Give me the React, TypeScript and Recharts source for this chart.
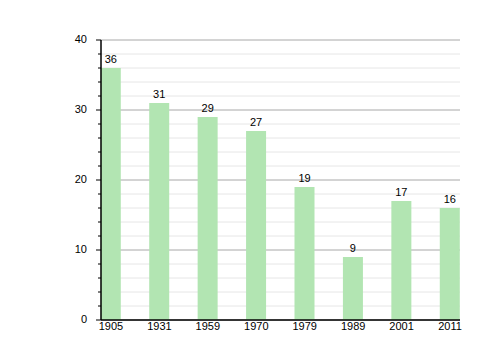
import React from 'react';
import { BarChart, Bar, XAxis, YAxis, CartesianGrid, LabelList } from 'recharts';

// census years and population counts
const YEARS = [1905, 1931, 1959, 1970, 1979, 1989, 2001, 2011];
const POPULATION = [36, 31, 29, 27, 19, 9, 17, 16];
const Y_TICKS = [0, 2, 4, 6, 8, 10, 12, 14, 16, 18, 20, 22, 24, 26, 28, 30, 32, 34, 36, 38, 40];

const data = YEARS.map((year, i) => ({ idx: i, year, value: POPULATION[i] }));

const FONT = '"Liberation Sans", Arial, sans-serif';

const YTick = (props: any) => {
  const { x, y, payload } = props;
  const major = payload.value % 10 === 0;
  return (
    <g>
      <line x1={x - (major ? 5 : 3)} x2={x} y1={y} y2={y} stroke="#000" strokeWidth={1} />
      {major && (
        <text x={x - 14} y={y} dy={3} textAnchor="end" fontSize={11} fill="#000" fontFamily={FONT}>
          {payload.value}
        </text>
      )}
    </g>
  );
};

const gridLine = (props: any) => {
  const { x1, x2, y1, y2, index } = props;
  const major = index % 5 === 0;
  return (
    <line
      key={`grid-${index}`}
      x1={x1}
      x2={x2}
      y1={y1}
      y2={y2}
      stroke={major ? '#a8a8a8' : '#e6e6e6'}
      strokeWidth={1}
    />
  );
};

export default function App() {
  return (
    <div style={{ position: 'absolute', left: 0, top: 0, background: '#fff' }}>
      <BarChart width={500} height={360} data={data} margin={{ top: 40, right: 40, bottom: 0, left: 61 }}>
        <CartesianGrid vertical={false} horizontal={gridLine} />
        <XAxis
          dataKey="idx"
          type="number"
          domain={[0, 7]}
          ticks={[0, 1, 2, 3, 4, 5, 6, 7]}
          tickFormatter={(v: number) => String(YEARS[v])}
          padding={{ left: 10, right: 10 }}
          axisLine={{ stroke: '#000', strokeWidth: 1.5 }}
          tickLine={false}
          tickMargin={0}
          tickSize={2}
          height={40}
          tick={{ fontSize: 11, fill: '#000', fontFamily: FONT }}
          interval={0}
        />
        <YAxis
          type="number"
          domain={[0, 40]}
          ticks={Y_TICKS}
          interval={0}
          width={40}
          axisLine={{ stroke: '#000', strokeWidth: 1.5 }}
          tickLine={false}
          tickSize={0}
          tickMargin={0}
          tick={<YTick />}
        />
        <Bar dataKey="value" fill="#b2e5b2" barSize={20} isAnimationActive={false}>
          <LabelList dataKey="value" position="top" offset={5} fill="#000" fontSize={11} fontFamily={FONT} />
        </Bar>
      </BarChart>
    </div>
  );
}
